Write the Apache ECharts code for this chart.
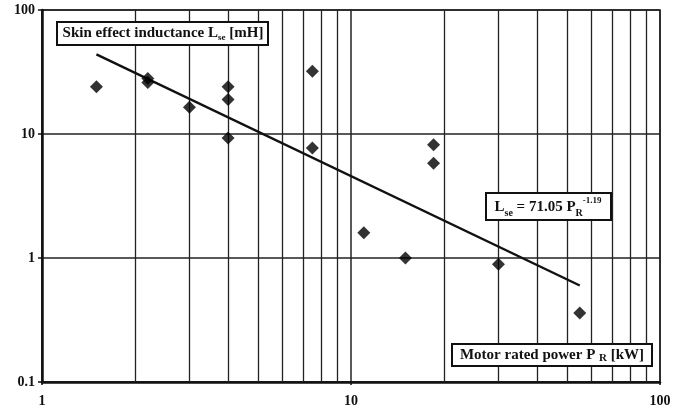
<!DOCTYPE html>
<html>
<head>
<meta charset="utf-8">
<script src="https://cdn.jsdelivr.net/npm/echarts@6/dist/echarts.min.js"></script>
<style>html,body{margin:0;padding:0;background:#fff}#c{width:686px;height:411px}</style>
</head>
<body>
<div id="c"></div>
<script>
// Measured motor data: rated power P_R [kW] and skin effect inductance L_se [mH]
const powerKW = [1.5, 2.2, 2.2, 3, 4, 4, 4, 7.5, 7.5, 11, 15, 18.5, 18.5, 30, 55];
const inductanceMH = [24, 28, 26, 16.4, 24, 19, 9.3, 32, 7.7, 1.6, 1.0, 8.2, 5.8, 0.89, 0.36];
// Fitted trend line end points: L_se = 71.05 P_R^-1.19
const trendX = [1.5, 55];
const trendY = [43.8, 0.60];
// Minor vertical grid values
const minorGridX = [2, 3, 4, 5, 6, 7, 8, 9, 20, 30, 40, 50, 60, 70, 80, 90];
const xTickLabels = ['1', '10', '100'];
const yTickLabels = ['0.1', '1', '10', '100'];

const FONT = '"Liberation Serif", "Times New Roman", serif';
const chart = echarts.init(document.getElementById('c'));

const scatterData = powerKW.map((p, i) => [p, inductanceMH[i]]);
const trendData = trendX.map((x, i) => [x, trendY[i]]);

chart.setOption({
  animation: false,
  backgroundColor: '#fff',
  grid: { left: 42, right: 26, top: 10, bottom: 29, show: true, borderColor: '#222', borderWidth: 1.5, backgroundColor: 'transparent' },
  xAxis: {
    type: 'log', logBase: 10, min: 1, max: 100,
    axisLine: { show: true, lineStyle: { color: '#111', width: 2.5 } },
    axisTick: { show: true, length: 3, lineStyle: { color: '#111', width: 1.5 } },
    axisLabel: { margin: 12, color: '#111', fontFamily: FONT, fontWeight: 'bold', fontSize: 14,
      formatter: v => xTickLabels.includes(String(v)) ? String(v) : '' },
    splitLine: { show: true, lineStyle: { color: '#222', width: 1.5 } },
    minorTick: { show: false }
  },
  yAxis: {
    type: 'log', logBase: 10, min: 0.1, max: 100,
    axisLine: { show: true, lineStyle: { color: '#111', width: 2.5 } },
    axisTick: { show: true, length: 4, lineStyle: { color: '#111', width: 1.5 } },
    axisLabel: { margin: 7, color: '#111', fontFamily: FONT, fontWeight: 'bold', fontSize: 14,
      formatter: v => { const s = String(+v.toPrecision(3)); return yTickLabels.includes(s) ? s : ''; } },
    splitLine: { show: true, lineStyle: { color: '#222', width: 1.5 } }
  },
  series: [
    {
      type: 'line', data: trendData, showSymbol: false, symbol: 'none',
      lineStyle: { color: '#111', width: 2.4 }, z: 3,
      markLine: {
        silent: true, symbol: 'none', label: { show: false },
        lineStyle: { color: '#222', width: 1.3, type: 'solid' },
        data: minorGridX.map(v => ({ xAxis: v })),
        z: 1
      }
    },
    {
      type: 'scatter', data: scatterData, symbol: 'diamond', symbolSize: 13,
      itemStyle: { color: '#000' }, z: 4
    }
  ],
  graphic: [
    { type: 'rect', z: 100, shape: { x: 57, y: 22, width: 211, height: 23 }, style: { fill: '#fff', stroke: '#111', lineWidth: 2 } },
    { type: 'text', z: 101, x: 163, y: 33.5, style: {
        text: '{m|Skin effect inductance L}{s|se}{m| [mH]}', align: 'center', verticalAlign: 'middle',
        rich: {
          m: { fontFamily: FONT, fontWeight: 'bold', fontSize: 15, fill: '#111', lineHeight: 18 },
          s: { fontFamily: FONT, fontWeight: 'bold', fontSize: 9, fill: '#111', lineHeight: 12, verticalAlign: 'bottom' }
        } } },
    { type: 'rect', z: 100, shape: { x: 486, y: 193, width: 125, height: 27 }, style: { fill: '#fff', stroke: '#111', lineWidth: 2 } },
    { type: 'text', z: 101, x: 548, y: 207, style: {
        text: '{m|L}{s|se}{m| = 71.05 P}{s|R}{p|-1.19}', align: 'center', verticalAlign: 'middle',
        rich: {
          m: { fontFamily: FONT, fontWeight: 'bold', fontSize: 15, fill: '#111', lineHeight: 22 },
          s: { fontFamily: FONT, fontWeight: 'bold', fontSize: 10, fill: '#111', lineHeight: 14, verticalAlign: 'bottom' },
          p: { fontFamily: FONT, fontWeight: 'bold', fontSize: 9, fill: '#111', lineHeight: 10, verticalAlign: 'top' }
        } } },
    { type: 'rect', z: 100, shape: { x: 452, y: 344, width: 200, height: 22 }, style: { fill: '#fff', stroke: '#111', lineWidth: 2 } },
    { type: 'text', z: 101, x: 552, y: 355, style: {
        text: '{m|Motor rated power P }{s|R}{m| [kW]}', align: 'center', verticalAlign: 'middle',
        rich: {
          m: { fontFamily: FONT, fontWeight: 'bold', fontSize: 15, fill: '#111', lineHeight: 18 },
          s: { fontFamily: FONT, fontWeight: 'bold', fontSize: 11, fill: '#111', lineHeight: 14, verticalAlign: 'bottom' }
        } } }
  ]
});
</script>
</body>
</html>
